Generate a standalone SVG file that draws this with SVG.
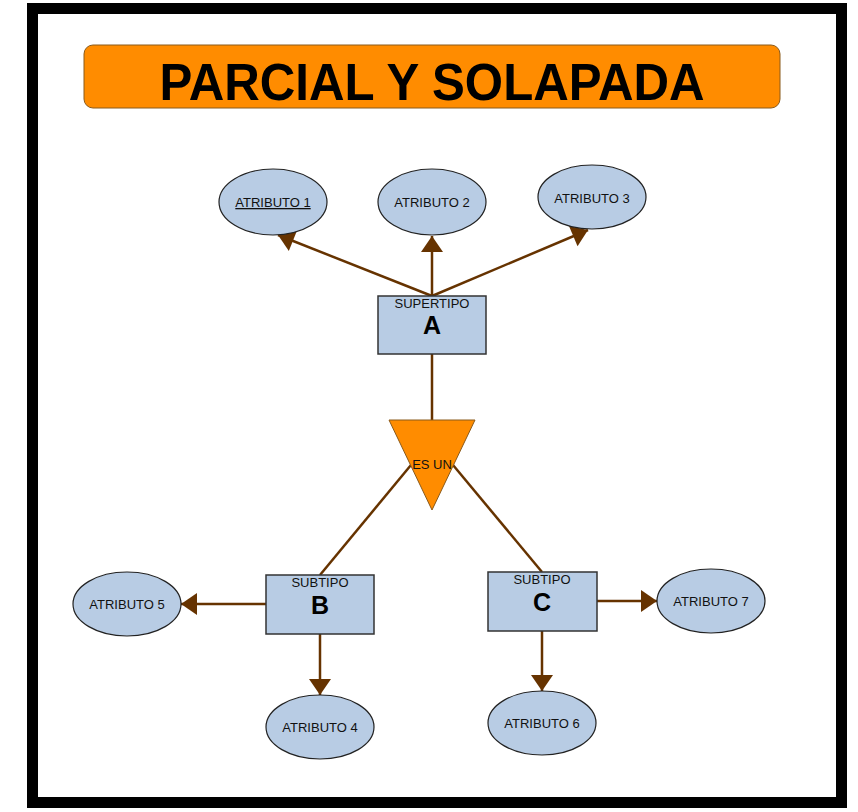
<svg xmlns="http://www.w3.org/2000/svg" width="858" height="812" viewBox="0 0 858 812">
<style>
.attr{fill:#B8CCE4;stroke:#222;stroke-width:1.2}
.box{fill:#B8CCE4;stroke:#333;stroke-width:1.5}
.t{font-family:"Liberation Sans",Arial,sans-serif;font-size:13px;fill:#111;text-anchor:middle}
.big{font-family:"Liberation Sans",Arial,sans-serif;font-size:25px;font-weight:bold;fill:#000;text-anchor:middle}
.con{stroke:#663300;stroke-width:2.5;fill:none}
</style>
<defs>
<marker id="arr" markerUnits="userSpaceOnUse" markerWidth="26" markerHeight="26" viewBox="0 0 26 26" refX="24" refY="13" orient="auto">
<path d="M24,13 L8,2 L8,24 Z" fill="#663300"/>
</marker>
</defs>
<rect x="0" y="0" width="858" height="812" fill="#fff"/>
<rect x="32.5" y="8.5" width="809" height="794" fill="#fff" stroke="#000" stroke-width="11"/>
<g id="title">
<rect x="84" y="45" width="696" height="63" rx="9" fill="#FF8C00" stroke="#8a5a1a" stroke-width="1"/>
<text x="432" y="100" font-family="'Liberation Sans',Arial,sans-serif" font-size="52" font-weight="bold" text-anchor="middle" textLength="545" lengthAdjust="spacingAndGlyphs" fill="#000">PARCIAL Y SOLAPADA</text>
</g>
<g id="connectors">
<line class="con" x1="432" y1="296" x2="278" y2="235" marker-end="url(#arr)"/>
<line class="con" x1="432" y1="296" x2="432" y2="236" marker-end="url(#arr)"/>
<line class="con" x1="432" y1="296" x2="588" y2="230" marker-end="url(#arr)"/>
<line class="con" x1="432" y1="354" x2="432" y2="420"/>
<line class="con" x1="411" y1="465" x2="320" y2="575"/>
<line class="con" x1="453" y1="465" x2="542" y2="572"/>
<line class="con" x1="266" y1="604" x2="181" y2="604" marker-end="url(#arr)"/>
<line class="con" x1="320" y1="634" x2="320" y2="695" marker-end="url(#arr)"/>
<line class="con" x1="597" y1="601" x2="657" y2="601" marker-end="url(#arr)"/>
<line class="con" x1="542" y1="631" x2="542" y2="691" marker-end="url(#arr)"/>
</g>
<g id="atributo1">
<ellipse class="attr" cx="273" cy="202" rx="54" ry="33"/>
<text class="t" x="273" y="207" text-decoration="underline">ATRIBUTO 1</text>
</g>
<g id="atributo2">
<ellipse class="attr" cx="432" cy="202" rx="54" ry="33"/>
<text class="t" x="432" y="207">ATRIBUTO 2</text>
</g>
<g id="atributo3">
<ellipse class="attr" cx="592" cy="197" rx="54" ry="32"/>
<text class="t" x="592" y="203">ATRIBUTO 3</text>
</g>
<g id="supertipoA">
<rect class="box" x="378" y="296" width="108" height="58"/>
<text class="t" x="432" y="308">SUPERTIPO</text>
<text class="big" x="432" y="334">A</text>
</g>
<g id="esun">
<polygon points="389,420 475,420 432,510" fill="#FF8C00" stroke="#8a5a1a" stroke-width="1"/>
<text class="t" x="432" y="469">ES UN</text>
</g>
<g id="subtipoB">
<rect class="box" x="266" y="575" width="108" height="59"/>
<text class="t" x="320" y="587">SUBTIPO</text>
<text class="big" x="320" y="614">B</text>
</g>
<g id="subtipoC">
<rect class="box" x="488" y="572" width="109" height="59"/>
<text class="t" x="542" y="584">SUBTIPO</text>
<text class="big" x="542" y="611">C</text>
</g>
<g id="atributo5">
<ellipse class="attr" cx="127" cy="604" rx="54" ry="32"/>
<text class="t" x="127" y="609">ATRIBUTO 5</text>
</g>
<g id="atributo4">
<ellipse class="attr" cx="320" cy="727" rx="54" ry="32"/>
<text class="t" x="320" y="732">ATRIBUTO 4</text>
</g>
<g id="atributo7">
<ellipse class="attr" cx="711" cy="601" rx="54" ry="32"/>
<text class="t" x="711" y="606">ATRIBUTO 7</text>
</g>
<g id="atributo6">
<ellipse class="attr" cx="542" cy="723" rx="54" ry="32"/>
<text class="t" x="542" y="728">ATRIBUTO 6</text>
</g>
</svg>
